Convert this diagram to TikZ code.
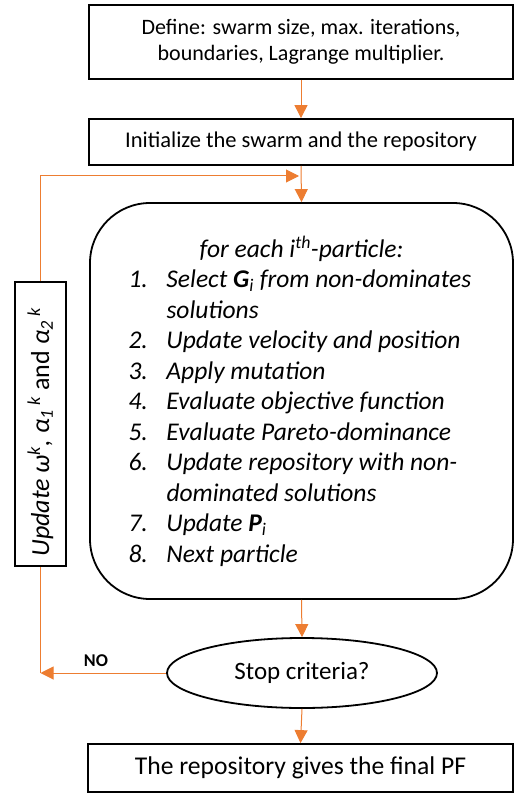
\documentclass[tikz,border=0pt]{standalone}
\usepackage{fontspec}
\setmainfont{Carlito}
\usetikzlibrary{arrows.meta,shapes.geometric,calc}
\definecolor{flow}{HTML}{ED7D31}

\newcommand{\itemno}[1]{\makebox[38pt][l]{#1}}

\begin{document}
\begin{tikzpicture}[x=1pt,y=-1pt,
  box/.style={draw=black, line width=1.8pt, rectangle, inner sep=0pt},
  flowline/.style={draw=flow, line width=1pt},
  flowarrow/.style={flowline, -{Triangle[width=13pt,length=13pt]}},
]
\useasboundingbox (0,0) rectangle (515,794);

% process boxes
\node[box, minimum width=424pt, minimum height=74pt, align=center,
      font=\fontsize{22}{26}\selectfont] (define) at (301,42)
  {Define: swarm size, max. iterations,\\boundaries, Lagrange multiplier.};

\node[box, minimum width=424pt, minimum height=46pt,
      font=\fontsize{22.5}{24}\selectfont] (init) at (301,142)
  {Initialize the swarm and the repository};

\node[box, rounded corners=60pt, minimum width=423pt, minimum height=396pt,
      font=\fontsize{25.5}{30.5}\selectfont] (loop) at (301.5,401)
  {\begin{minipage}{346pt}\itshape
   \makebox[\linewidth]{for each i\textsuperscript{th}-particle:}\\
   \itemno{1.}Select \textbf{G}\textsubscript{i} from non-dominates\\
   \itemno{}solutions\\
   \itemno{2.}Update velocity and position\\
   \itemno{3.}Apply mutation\\
   \itemno{4.}Evaluate objective function\\
   \itemno{5.}Evaluate Pareto-dominance\\
   \itemno{6.}Update repository with non-\\
   \itemno{}dominated solutions\\
   \itemno{7.}Update \textbf{P}\textsubscript{i}\\
   \itemno{8.}Next particle
   \end{minipage}};

\node[draw=black, line width=1.8pt, ellipse, inner sep=0pt,
      minimum width=270pt, minimum height=70pt,
      font=\fontsize{25}{28}\selectfont] (stop) at (302,673)
  {Stop criteria?};

\node[box, minimum width=425pt, minimum height=48pt,
      font=\fontsize{25.6}{30}\selectfont] (final) at (300.5,768)
  {The repository gives the final PF};

% parameter update box, text running upwards
\node[box, rotate=90, minimum width=284pt, minimum height=51pt,
      font=\fontsize{26}{28}\selectfont] (update) at (40.5,424)
  {\itshape Update ω\textsuperscript{k}, α\textsubscript{1}\,\textsuperscript{k} {\upshape and} α\textsubscript{2}\,\textsuperscript{k}\hspace*{16pt}};

% connectors
\coordinate (merge) at (299,176);
\coordinate (back) at (update.west |- stop.west);

\draw[flowarrow] (define.south) -- (init.north);
\draw[flowarrow] (init.south) -- (loop.north);
\draw[flowarrow] (update.east) |- (merge);
\draw[flowarrow] (loop.south) -- (stop.north);
\draw[flowarrow] (stop.south) -- (final.north);
\draw[flowarrow] (stop.west) -- (back);
\draw[flowline] (update.west) -- (back);

\node[font=\bfseries\fontsize{18}{18}\selectfont] (no) at (96,661) {NO};
\end{tikzpicture}
\end{document}
